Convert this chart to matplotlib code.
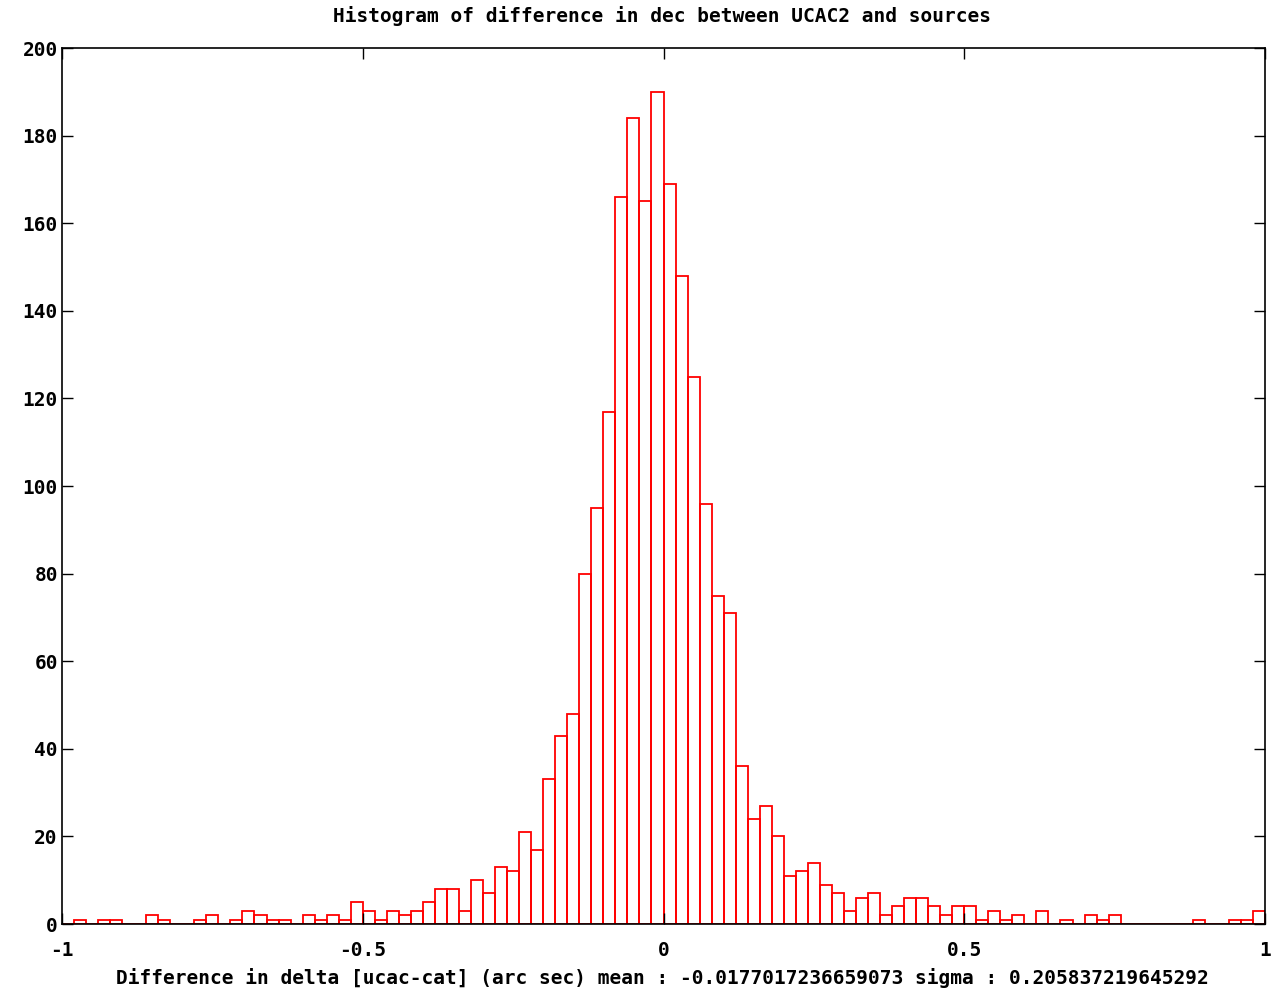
import numpy as np
import matplotlib.pyplot as plt

# histogram of dec differences, 100 bins of 0.02 arcsec from -1 to 1
bin_edges = np.linspace(-1.0, 1.0, 101)
counts = [
    0, 1, 0, 1, 1, 0, 0, 2, 1, 0,
    0, 1, 2, 0, 1, 3, 2, 1, 1, 0,
    2, 1, 2, 1, 5, 3, 1, 3, 2, 3,
    5, 8, 8, 3, 10, 7, 13, 12, 21, 17,
    33, 43, 48, 80, 95, 117, 166, 184, 165, 190,
    169, 148, 125, 96, 75, 71, 36, 24, 27, 20,
    11, 12, 14, 9, 7, 3, 6, 7, 2, 4,
    6, 6, 4, 2, 4, 4, 1, 3, 1, 2,
    0, 3, 0, 1, 0, 2, 1, 2, 0, 0,
    0, 0, 0, 0, 1, 0, 0, 1, 1, 3,
]

title = "Histogram of difference in dec between UCAC2 and sources"
xlabel = ("Difference in delta [ucac-cat] (arc sec) mean : -0.0177017236659073 "
          "sigma : 0.205837219645292")
xticks = [-1, -0.5, 0, 0.5, 1]
xticklabels = ["-1", "-0.5", "0", "0.5", "1"]
yticks = list(range(0, 201, 20))

font = {"family": "DejaVu Sans Mono", "weight": "bold", "size": 14}

fig = plt.figure(figsize=(12.72, 9.9), dpi=100)
ax = fig.add_axes([62 / 1272, 1 - 924 / 990, 1203 / 1272, 876 / 990])

ax.bar(bin_edges[:-1], counts, width=0.02, align="edge",
       fill=False, edgecolor="#ff0000", linewidth=1.3)

ax.set_xlim(-1, 1)
ax.set_ylim(0, 200)
ax.set_xticks(xticks)
ax.set_xticklabels(xticklabels, fontdict=font)
ax.set_yticks(yticks)
ax.set_yticklabels([str(v) for v in yticks], fontdict=font)
ax.tick_params(direction="in", length=8, width=1, top=True, right=True,
               colors="black")
ax.tick_params(axis="x", pad=12)
ax.tick_params(axis="y", pad=3)
for s in ax.spines.values():
    s.set_linewidth(1.2)

# centred over the plot area, as gnuplot does
xc = 662 / 1272
fig.text(xc, 1 - 16 / 990, title, ha="center", va="center", **font)
fig.text(xc, 1 - 978 / 990, xlabel, ha="center", va="center", **font)

fig.savefig("out.png", dpi=100)
